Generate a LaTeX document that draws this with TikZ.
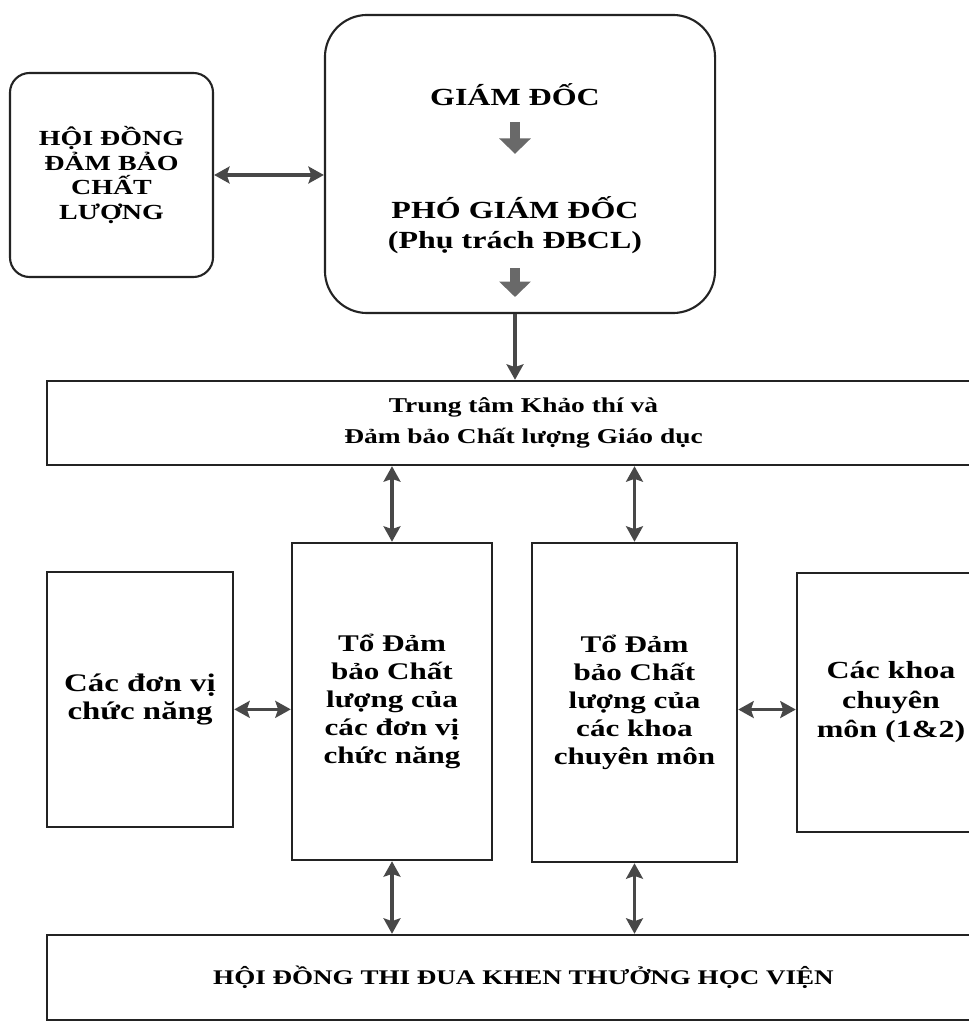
\documentclass[tikz,border=0pt]{standalone}
\usepackage{fontspec}
\setmainfont{Liberation Serif}[FakeStretch=1.3]
\usetikzlibrary{arrows.meta}
\definecolor{cLine}{RGB}{72,72,72}
\definecolor{cFat}{RGB}{105,105,105}
\definecolor{cBorder}{RGB}{35,35,35}
\tikzset{
    roundbox/.style={rectangle, rounded corners=14pt, draw=cBorder, line width=1.5pt, align=center, text centered},
    bigbox/.style  ={rectangle, rounded corners=30pt, draw=cBorder, line width=1.5pt},
    plainbox/.style={rectangle, draw=cBorder, line width=1.7pt, align=center, text centered},
    label/.style   ={align=center, inner sep=2pt},
    link/.style    ={draw=cLine, line width=2.2pt},
    fatarrow/.style={draw=cFat, line width=7pt, -{Triangle[length=11pt,width=22pt]}},
}

\begin{document}
\begin{tikzpicture}[x=0.025cm, y=-0.025cm, font=\bfseries\fontsize{16}{20}\selectfont,
        >={Stealth[length=11pt,width=12pt,inset=2pt]}]
    \useasboundingbox (0,0) rectangle (968,1024);
    % top row
    \node[roundbox, minimum width=5.075cm, minimum height=5.1cm,
          font=\bfseries\fontsize{15.3}{17.5}\selectfont] (council) at (111.5,175)
        {HỘI ĐỒNG\\ĐẢM BẢO\\CHẤT\\LƯỢNG};
    \node[bigbox, minimum width=9.75cm, minimum height=7.45cm] (director) at (520,164) {};
    \node[label, font=\bfseries\fontsize{17.5}{21}\selectfont] (gd) at (515,95) {GIÁM ĐỐC};
    \node[label, font=\bfseries\fontsize{17.5}{21.5}\selectfont] (pgd) at (515,225)
        {PHÓ GIÁM ĐỐC\\(Phụ trách ĐBCL)};
    \coordinate (pgdout) at (515,297);
    % centre band
    \node[plainbox, minimum width=23.825cm, minimum height=2.1cm,
          font=\bfseries\fontsize{15}{21.5}\selectfont] (center) at (523.5,423)
        {Trung tâm Khảo thí và\\Đảm bảo Chất lượng Giáo dục};
    % middle row
    \node[plainbox, minimum width=4.65cm, minimum height=6.375cm,
          font=\bfseries\fontsize{18}{20}\selectfont] (units) at (140,699.5)
        {Các đơn vị\\chức năng};
    \node[plainbox, minimum width=5cm, minimum height=7.925cm,
          font=\bfseries\fontsize{17}{20}\selectfont] (tounits) at (392,701.5)
        {Tổ Đảm\\bảo Chất\\lượng của\\các đơn vị\\chức năng};
    \node[plainbox, minimum width=5.125cm, minimum height=7.975cm,
          font=\bfseries\fontsize{17}{20}\selectfont] (tofac) at (634.5,702.5)
        {Tổ Đảm\\bảo Chất\\lượng của\\các khoa\\chuyên môn};
    \node[plainbox, minimum width=4.7cm, minimum height=6.475cm,
          font=\bfseries\fontsize{17.5}{21}\selectfont] (faculties) at (891,702.5)
        {Các khoa\\chuyên\\môn (1\&2)};
    % bottom band
    \node[plainbox, minimum width=23.825cm, minimum height=2.125cm,
          font=\bfseries\fontsize{14.8}{21}\selectfont] (award) at (523.5,977.5)
        {HỘI ĐỒNG THI ĐUA KHEN THƯỞNG HỌC VIỆN};

    \draw[fatarrow, shorten <=9pt, shorten >=28pt] (gd) -- (pgd);
    \draw[fatarrow, shorten <=8pt] (pgd) -- (pgdout);
    \draw[link,<->] (council.east) -- (council.east -| director.west);
    \draw[link,->] (pgdout |- director.south) -- (pgdout |- center.north);
    \draw[link,<->] (tounits.north) -- (tounits.north |- center.south);
    \draw[link,<->] (tofac.north) -- (tofac.north |- center.south);
    \draw[link,<->] ([yshift=-7pt]units.east) -- ([yshift=-7pt]units.east -| tounits.west);
    \draw[link,<->] ([yshift=-5pt]tofac.east) -- ([yshift=-5pt]tofac.east -| faculties.west);
    \draw[link,<->] (tounits.south) -- (tounits.south |- award.north);
    \draw[link,<->] (tofac.south) -- (tofac.south |- award.north);
\end{tikzpicture}
\end{document}
